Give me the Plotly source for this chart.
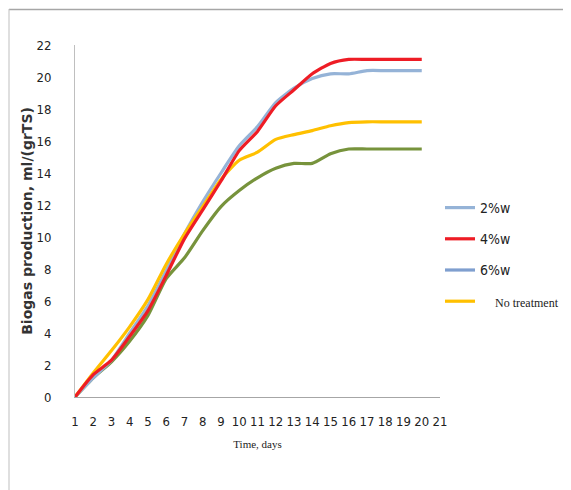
import plotly.graph_objects as go

days = list(range(1, 21))
tick_vals = list(range(1, 22))
y_ticks = list(range(0, 23, 2))

s_2w = [0, 1.2, 2.3, 4.0, 5.7, 7.9, 10.2, 12.2, 14.0, 15.7, 16.9, 18.4, 19.3, 19.9, 20.2, 20.2, 20.4, 20.4, 20.4, 20.4]
s_4w = [0, 1.4, 2.3, 3.8, 5.4, 7.6, 9.9, 11.7, 13.5, 15.4, 16.6, 18.2, 19.2, 20.2, 20.85, 21.1, 21.1, 21.1, 21.1, 21.1]
s_6w = [0, 1.2, 2.2, 3.5, 5.1, 7.4, 8.7, 10.4, 11.9, 12.9, 13.7, 14.3, 14.6, 14.6, 15.2, 15.5, 15.5, 15.5, 15.5, 15.5]
s_none = [0, 1.5, 2.9, 4.4, 6.1, 8.3, 10.2, 11.9, 13.6, 14.8, 15.3, 16.1, 16.4, 16.65, 16.95, 17.15, 17.2, 17.2, 17.2, 17.2]

legend_names = ["2%w", "4%w", "6%w",
                "<span style='font-family:Liberation Serif;font-size:12px'>     No treatment</span>"]
legend_colors = ["#95B3D7", "#EE1C25", "#7F9FCF", "#FFC000"]

fig = go.Figure()

# legend entries (as shown in the reference legend)
for i, (nm, col) in enumerate(zip(legend_names, legend_colors)):
    fig.add_trace(go.Scatter(x=[None], y=[None], mode="lines", name=nm,
                             legendgroup=f"lg{i}", line=dict(color=col, width=3.2)))

# data lines
for y, col in [(s_6w, "#77933C"), (s_2w, "#95B3D7"), (s_none, "#FFC000"), (s_4w, "#EE1C25")]:
    fig.add_trace(go.Scatter(
        x=days, y=y, mode="lines", showlegend=False,
        line=dict(color=col, width=3.2, shape="spline", smoothing=0.6),
    ))

# page body has an 8px margin, so the figure is sized/offset to fit the window
W, H = 563, 482
L, R, T, B = 67, 131, 37, 93
pw, ph = W - L - R, H - T - B

fig.update_layout(
    width=W, height=H,
    margin=dict(l=L, r=R, t=T, b=B, autoexpand=False),
    paper_bgcolor="white", plot_bgcolor="white",
    font=dict(family="Liberation Sans Narrow, DejaVu Sans Condensed, sans-serif", size=13, color="#222"),
    legend=dict(
        x=1.0, xanchor="left", y=(389 - 184) / ph, yanchor="top",
        traceorder="grouped", tracegroupgap=10,
        font=dict(size=14, color="#222"),
        itemwidth=30, bgcolor="rgba(0,0,0,0)",
    ),
    showlegend=True,
    xaxis=dict(
        range=[1, 21], tickvals=tick_vals, ticktext=[str(v) for v in tick_vals],
        showgrid=False, zeroline=False, showline=True, linecolor="#A6A6A6", linewidth=1,
        ticks="outside", ticklen=12, tickcolor="rgba(0,0,0,0)", automargin=False,
        title=dict(text="Time, days", font=dict(family="Liberation Serif, serif", size=11, color="#222"), standoff=12),
    ),
    yaxis=dict(
        range=[0, 22], tickvals=y_ticks, showgrid=False, zeroline=False,
        showline=True, linecolor="#BFBFBF", linewidth=1, automargin=False,
        ticks="outside", ticklen=20, tickcolor="rgba(0,0,0,0)",
        title=dict(text="<b>Biogas production, ml/(grTS)</b>",
                   font=dict(family="DejaVu Sans, sans-serif", size=14, color="#333"), standoff=0),
    ),
    shapes=[
        dict(type="line", xref="paper", yref="paper", x0=-66/pw, x1=(W - L) / pw,
             y0=1 + 35.5/ph, y1=1 + 35.5/ph, line=dict(color="#A6A6A6", width=1.5)),
        dict(type="line", xref="paper", yref="paper", x0=-66/pw, x1=-66/pw,
             y0=1 + 36/ph, y1=-B/ph, line=dict(color="#BFBFBF", width=1)),
    ],
)

fig.write_html("out.html")
